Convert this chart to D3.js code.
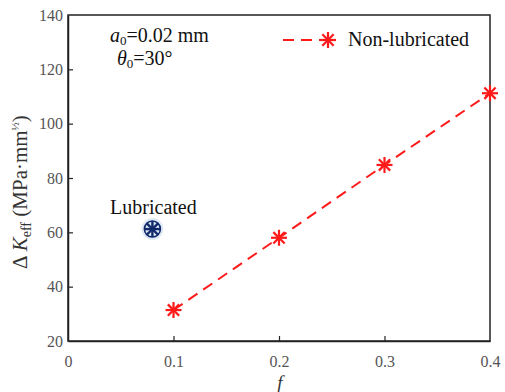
<!DOCTYPE html>
<html lang="en">
<head>
<meta charset="UTF-8">
<title>Delta K eff vs f</title>
<style>
  body { margin: 0; background: #fff; }
</style>
</head>
<body>
<svg id="chart" width="505" height="392"></svg>
<script src="https://d3js.org/d3.v7.min.js"></script>
<script>

// data
var frictionCoeff = [0.1, 0.2, 0.3, 0.4];
var nonLubricated = [31.4, 58.0, 84.8, 111.2];
var lubricatedF = [0.08];
var lubricatedK = [61.2];
var xTicks = [0, 0.1, 0.2, 0.3, 0.4];
var yTicks = [20, 40, 60, 80, 100, 120, 140];

var serif = "'Liberation Serif'";

var svg = d3.select("#chart"),
    margin = {top: 15, right: 15, bottom: 51, left: 68},
    width = 505 - margin.left - margin.right,
    height = 392 - margin.top - margin.bottom;

var x = d3.scaleLinear().domain([0, 0.4]).range([0, width]);
var y = d3.scaleLinear().domain([20, 140]).range([height, 0]);

var g = svg.append("g").attr("transform", "translate(" + margin.left + "," + margin.top + ")");

// frame
g.append("rect")
  .attr("width", width).attr("height", height)
  .attr("fill", "none").attr("stroke", "#222").attr("stroke-width", 1.5);

var xAxis = g.append("g").attr("transform", "translate(0," + height + ")")
  .call(d3.axisBottom(x).tickValues(xTicks).tickSizeInner(-5).tickSizeOuter(0).tickPadding(15)
    .tickFormat(function (d) { return d === 0 ? "0" : d3.format(".1f")(d); }));
var yAxis = g.append("g")
  .call(d3.axisLeft(y).tickValues(yTicks).tickSizeInner(-5).tickSizeOuter(0).tickPadding(5));

[xAxis, yAxis].forEach(function (a) {
  a.select(".domain").attr("stroke", "#222").attr("stroke-width", 1.5);
  a.selectAll(".tick line").attr("stroke", "#222").attr("stroke-width", 1.2);
  a.selectAll(".tick text").attr("fill", "#555").style("font-size", "16px");
});
// no ticks on the frame ends
xAxis.selectAll(".tick").filter(function (d) { return d === 0 || d === 0.4; }).select("line").remove();
yAxis.selectAll(".tick").filter(function (d) { return d === 20 || d === 140; }).select("line").remove();

function drawStar(sel, cx, cy, r, colour, w) {
  for (var i = 0; i < 4; i++) {
    var a = i * Math.PI / 4;
    sel.append("line")
      .attr("x1", cx - r * Math.cos(a)).attr("y1", cy - r * Math.sin(a))
      .attr("x2", cx + r * Math.cos(a)).attr("y2", cy + r * Math.sin(a))
      .attr("stroke", colour).attr("stroke-width", w);
  }
}

// non-lubricated line
var pts = frictionCoeff.map(function (f, i) { return [x(f), y(nonLubricated[i])]; });
g.append("path")
  .attr("d", d3.line()(pts))
  .attr("fill", "none").attr("stroke", "#ff1a1a").attr("stroke-width", 2)
  .attr("stroke-dasharray", "11,7");
pts.forEach(function (p) { drawStar(g, p[0], p[1], 8, "#ff1a1a", 2.2); });

// lubricated point
lubricatedF.forEach(function (f, i) {
  var cx = x(f), cy = y(lubricatedK[i]);
  g.append("circle").attr("cx", cx).attr("cy", cy).attr("r", 11)
    .attr("fill", "#dfe8f5");
  g.append("circle").attr("cx", cx).attr("cy", cy).attr("r", 8)
    .attr("fill", "none").attr("stroke", "#102a6b").attr("stroke-width", 1.6);
  drawStar(g, cx, cy, 8, "#102a6b", 2.4);
  g.append("text").attr("x", cx + 1).attr("y", cy - 15)
    .attr("text-anchor", "middle").style("font-size", "20px").attr("fill", "#111")
    .text("Lubricated");
});

// parameter annotations
var t1 = svg.append("text").attr("x", 110).attr("y", 42).style("font-size", "20px").attr("fill", "#111");
t1.append("tspan").style("font-style", "italic").text("a");
t1.append("tspan").attr("dy", 3).style("font-size", "13px").text("0");
t1.append("tspan").attr("dy", -3).text("=0.02 mm");
var t2 = svg.append("text").attr("x", 117).attr("y", 65).style("font-size", "20px").attr("fill", "#111");
t2.append("tspan").style("font-style", "italic").text("θ");
t2.append("tspan").attr("dy", 3).style("font-size", "13px").text("0");
t2.append("tspan").attr("dy", -3).text("=30°");

// legend
var leg = svg.append("g");
leg.append("line").attr("x1", 283).attr("x2", 328).attr("y1", 40).attr("y2", 40)
  .attr("stroke", "#ff1a1a").attr("stroke-width", 2).attr("stroke-dasharray", "11,7");
drawStar(leg, 328, 40, 8, "#ff1a1a", 2.2);
leg.append("text").attr("x", 348).attr("y", 46).style("font-size", "20px").attr("fill", "#111")
  .text("Non-lubricated");

// axis titles
svg.append("text").attr("x", 280).attr("y", 389).attr("text-anchor", "middle")
  .style("font-size", "19px").style("font-style", "italic").attr("fill", "#333").text("f");

var yl = svg.append("text")
  .attr("transform", "translate(27,192) rotate(-90)")
  .attr("text-anchor", "middle").style("font-size", "21px").attr("fill", "#333");
yl.append("tspan").text("Δ ");
yl.append("tspan").style("font-style", "italic").text("K");
yl.append("tspan").attr("dy", 4).style("font-size", "14px").text("eff");
yl.append("tspan").attr("dy", -4).text("  (MPa·mm");
yl.append("tspan").attr("dy", -8).style("font-size", "11px").text("½");
yl.append("tspan").attr("dy", 8).text(")");

svg.selectAll("text").style("font-family", serif);

</script>
</body>
</html>
